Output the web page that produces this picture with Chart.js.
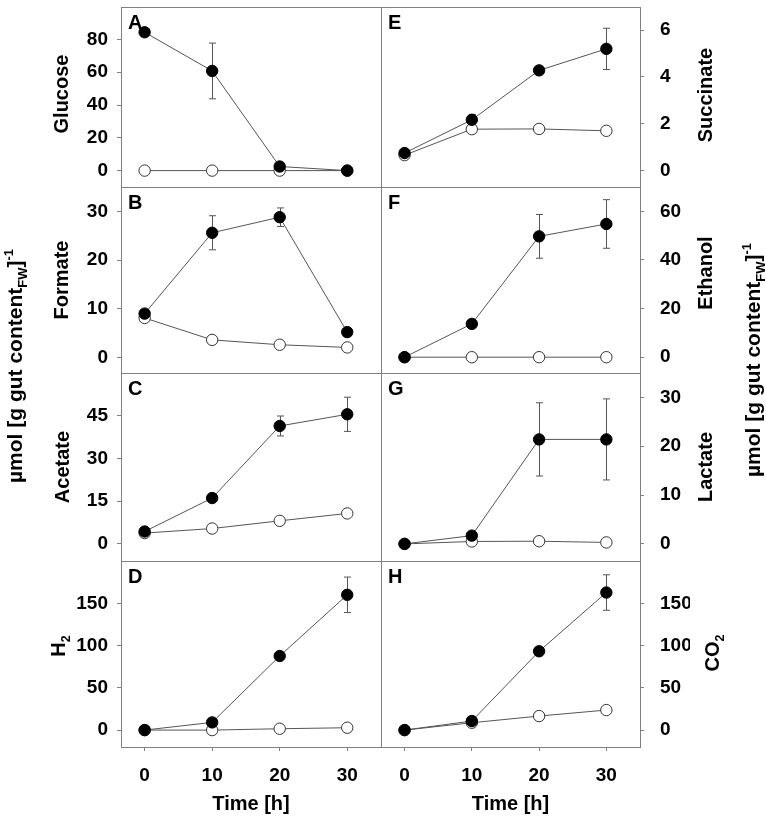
<!DOCTYPE html>
<html>
<head>
<meta charset="utf-8">
<script src="https://cdn.jsdelivr.net/npm/chart.js@4.4.0/dist/chart.umd.min.js"></script>
<style>
  html, body { margin: 0; padding: 0; background: #fff; }
  #wrap { position: relative; width: 766px; height: 816px; }
  #wrap canvas { position: absolute; left: 0; top: 0; }
</style>
</head>
<body>
<div id="wrap"></div>
<script>
// Valores (tempo em horas)
const times = [0, 10, 20, 30];
const xTicks = [0, 10, 20, 30];

// A - Glucose
const glucoseFilled = [84.4, 60.8, 2.5, 0];
const glucoseFilledErr = [0, 17, 0, 0];
const glucoseOpen = [0, 0, 0, 0];
const glucoseOpenErr = [0, 0, 0, 0];
const glucoseTicks = [0, 20, 40, 60, 80];

// B - Formate
const formateFilled = [9.0, 25.6, 28.8, 5.2];
const formateFilledErr = [0, 3.5, 1.9, 0];
const formateOpen = [8.1, 3.6, 2.6, 2.05];
const formateOpenErr = [0, 0, 0, 0];
const formateTicks = [0, 10, 20, 30];

// C - Acetate
const acetateFilled = [4.35, 16.1, 41.4, 45.5];
const acetateFilledErr = [0, 0, 3.5, 6];
const acetateOpen = [3.8, 5.4, 8.1, 10.7];
const acetateOpenErr = [0, 0, 0, 0];
const acetateTicks = [0, 15, 30, 45];

// D - H2
const h2Filled = [0, 9.1, 87.6, 160];
const h2FilledErr = [0, 0, 0, 21];
const h2Open = [0, 0, 1.6, 2.8];
const h2OpenErr = [0, 0, 0, 0];
const h2Ticks = [0, 50, 100, 150];

// E - Succinate
const succinateFilled = [0.75, 2.17, 4.28, 5.2];
const succinateFilledErr = [0, 0.23, 0, 0.88];
const succinateOpen = [0.66, 1.77, 1.78, 1.7];
const succinateOpenErr = [0, 0.05, 0, 0.1];
const succinateTicks = [0, 2, 4, 6];

// F - Ethanol
const ethanolFilled = [0, 13.7, 49.7, 54.8];
const ethanolFilledErr = [0, 0, 9, 10];
const ethanolOpen = [0, 0, 0, 0];
const ethanolOpenErr = [0, 0, 0, 0];
const ethanolTicks = [0, 20, 40, 60];

// G - Lactate
const lactateFilled = [0, 1.7, 21.4, 21.4];
const lactateFilledErr = [0, 0, 7.5, 8.3];
const lactateOpen = [0, 0.5, 0.55, 0.3];
const lactateOpenErr = [0, 0, 0, 0];
const lactateTicks = [0, 10, 20, 30];

// H - CO2
const co2Filled = [0, 10.7, 93.2, 162.7];
const co2FilledErr = [0, 0, 0, 21];
const co2Open = [0, 8.7, 16.6, 23.7];
const co2OpenErr = [0, 0, 0, 0];
const co2Ticks = [0, 50, 100, 150];

// Layout geral
const W = 766, H = 816;
const FONT = "'Liberation Sans', Arial, Helvetica, sans-serif";
const YW = 50;          // largura fixa do eixo y
const XH = 69;          // altura fixa do eixo x (linha de baixo)
const colX = [[121, 381], [381, 640]];
const rowY = [[1, 187], [187, 373], [373, 561], [561, 747]];
const frameColor = '#808080';
const lineColor = '#555555';

const panels = [
  { letter: 'A', col: 0, row: 0, min: -10, max: 100, ticks: glucoseTicks, filled: glucoseFilled, filledErr: glucoseFilledErr, open: glucoseOpen, openErr: glucoseOpenErr, title: [{ t: 'Glucose' }], titleY: 94, titleBase: 68 },
  { letter: 'B', col: 0, row: 1, min: -3.2, max: 35, ticks: formateTicks, filled: formateFilled, filledErr: formateFilledErr, open: formateOpen, openErr: formateOpenErr, title: [{ t: 'Formate' }], titleY: 280, titleBase: 68 },
  { letter: 'C', col: 0, row: 2, min: -6, max: 60, ticks: acetateTicks, filled: acetateFilled, filledErr: acetateFilledErr, open: acetateOpen, openErr: acetateOpenErr, title: [{ t: 'Acetate' }], titleY: 467, titleBase: 69 },
  { letter: 'D', col: 0, row: 3, min: -20, max: 200, ticks: h2Ticks, filled: h2Filled, filledErr: h2FilledErr, open: h2Open, openErr: h2OpenErr, title: [{ t: 'H' }, { t: '2', sub: true }], titleY: 646, titleBase: 65 },
  { letter: 'E', col: 1, row: 0, min: -0.7, max: 7, ticks: succinateTicks, filled: succinateFilled, filledErr: succinateFilledErr, open: succinateOpen, openErr: succinateOpenErr, title: [{ t: 'Succinate' }], titleY: 95, titleBase: 712 },
  { letter: 'F', col: 1, row: 1, min: -6.5, max: 70, ticks: ethanolTicks, filled: ethanolFilled, filledErr: ethanolFilledErr, open: ethanolOpen, openErr: ethanolOpenErr, title: [{ t: 'Ethanol' }], titleY: 273, titleBase: 712 },
  { letter: 'G', col: 1, row: 2, min: -3.5, max: 35, ticks: lactateTicks, filled: lactateFilled, filledErr: lactateFilledErr, open: lactateOpen, openErr: lactateOpenErr, title: [{ t: 'Lactate' }], titleY: 467, titleBase: 712 },
  { letter: 'H', col: 1, row: 3, min: -20, max: 200, ticks: co2Ticks, filled: co2Filled, filledErr: co2FilledErr, open: co2Open, openErr: co2OpenErr, title: [{ t: 'CO' }, { t: '2', sub: true }], titleY: 653, titleBase: 719 }
];

const unitLabel = [{ t: 'µmol [g gut content' }, { t: 'FW', sub: true }, { t: ']' }, { t: '-1', sup: true }];

// Desenha texto rotacionado (-90°) com sub/sobrescritos
function drawRich(ctx, parts, baseX, centerY, size) {
  ctx.save();
  ctx.translate(baseX, centerY);
  ctx.rotate(-Math.PI / 2);
  ctx.fillStyle = '#000';
  ctx.textBaseline = 'alphabetic';
  ctx.textAlign = 'left';
  let total = 0;
  parts.forEach(p => {
    p.size = (p.sub || p.sup) ? size * 0.62 : size;
    ctx.font = 'bold ' + p.size + 'px ' + FONT;
    p.w = ctx.measureText(p.t).width;
    total += p.w;
  });
  let x = -total / 2;
  parts.forEach(p => {
    ctx.font = 'bold ' + p.size + 'px ' + FONT;
    const dy = p.sub ? size * 0.24 : (p.sup ? -size * 0.45 : 0);
    ctx.fillText(p.t, x, dy);
    x += p.w;
  });
  ctx.restore();
}

function zeroPad(s) {
  s.paddingTop = 0; s.paddingBottom = 0; s.paddingLeft = 0; s.paddingRight = 0;
}

function makeChart(p, idx) {
  const cv = document.createElement('canvas');
  cv.width = W; cv.height = H;
  cv.style.width = W + 'px'; cv.style.height = H + 'px';
  document.getElementById('wrap').appendChild(cv);

  const isBottom = p.row === 3;
  const [x0, x1] = colX[p.col];
  const [y0, y1] = rowY[p.row];
  const padding = p.col === 0
    ? { left: x0 - YW, right: W - x1, top: y0, bottom: isBottom ? H - y1 - XH : H - y1 }
    : { left: x0, right: W - x1 - YW, top: y0, bottom: isBottom ? H - y1 - XH : H - y1 };

  const panelPlugin = {
    id: 'panel' + p.letter,
    beforeDatasetsDraw(chart) {
      // barras de erro
      const ctx = chart.ctx, xs = chart.scales.x, ys = chart.scales.y;
      ctx.save();
      ctx.strokeStyle = lineColor;
      ctx.lineWidth = 1;
      [[p.filled, p.filledErr], [p.open, p.openErr]].forEach(([vals, errs]) => {
        vals.forEach((v, i) => {
          const e = errs[i];
          if (!e) return;
          const px = Math.round(xs.getPixelForValue(times[i])) + 0.5;
          const pt = ys.getPixelForValue(v + e);
          const pb = ys.getPixelForValue(v - e);
          ctx.beginPath();
          ctx.moveTo(px, pt); ctx.lineTo(px, pb);
          ctx.moveTo(px - 3.5, pt); ctx.lineTo(px + 3.5, pt);
          ctx.moveTo(px - 3.5, pb); ctx.lineTo(px + 3.5, pb);
          ctx.stroke();
        });
      });
      ctx.restore();
    },
    afterDraw(chart) {
      const ctx = chart.ctx, a = chart.chartArea;
      ctx.save();
      ctx.strokeStyle = frameColor;
      ctx.lineWidth = 1;
      ctx.strokeRect(Math.round(a.left) + 0.5, Math.round(a.top) + 0.5,
        Math.round(a.right - a.left), Math.round(a.bottom - a.top));
      ctx.fillStyle = '#000';
      ctx.font = 'bold 20px ' + FONT;
      ctx.textAlign = 'left';
      ctx.textBaseline = 'alphabetic';
      ctx.fillText(p.letter, a.left + 7, a.top + 22);
      ctx.restore();
      drawRich(ctx, p.title, p.titleBase, p.titleY, 20);
      if (idx === 0) {
        drawRich(ctx, unitLabel, 22, 366, 21);
        drawRich(ctx, unitLabel, 760, 360, 21);
      }
    }
  };

  const tickFont = { family: FONT, size: 19, weight: 'bold' };

  return new Chart(cv, {
    type: 'line',
    data: {
      datasets: [
        {
          label: 'filled',
          data: times.map((t, i) => ({ x: t, y: p.filled[i] })),
          borderColor: lineColor,
          borderWidth: 1,
          pointRadius: 5.7,
          pointHoverRadius: 5.7,
          pointBackgroundColor: '#000',
          pointBorderColor: '#000',
          pointBorderWidth: 1,
          tension: 0
        },
        {
          label: 'open',
          data: times.map((t, i) => ({ x: t, y: p.open[i] })),
          borderColor: lineColor,
          borderWidth: 1,
          pointRadius: 5.7,
          pointHoverRadius: 5.7,
          pointBackgroundColor: '#fff',
          pointBorderColor: '#333',
          pointBorderWidth: 1,
          tension: 0
        }
      ]
    },
    options: {
      responsive: false,
      animation: false,
      events: [],
      devicePixelRatio: 1,
      layout: { padding },
      plugins: { legend: { display: false }, tooltip: { enabled: false } },
      scales: {
        x: {
          type: 'linear',
          min: -3.5,
          max: 35,
          display: isBottom,
          afterBuildTicks: s => { s.ticks = xTicks.map(v => ({ value: v })); },
          afterFit: s => { if (isBottom) s.height = XH; zeroPad(s); },
          grid: { drawOnChartArea: false, drawTicks: true, tickLength: 4, color: frameColor },
          border: { display: false },
          ticks: { font: tickFont, color: '#000', padding: 13, maxRotation: 0 },
          title: { display: true, text: 'Time [h]', color: '#000', font: { family: FONT, size: 20, weight: 'bold' }, padding: 0 }
        },
        y: {
          type: 'linear',
          position: p.col === 0 ? 'left' : 'right',
          min: p.min,
          max: p.max,
          afterBuildTicks: s => { s.ticks = p.ticks.map(v => ({ value: v })); },
          afterFit: s => { s.width = YW; zeroPad(s); },
          grid: { drawOnChartArea: false, drawTicks: true, tickLength: 4, color: frameColor },
          border: { display: false },
          ticks: { font: tickFont, color: '#000', padding: p.col === 0 ? 9 : 16 }
        }
      }
    },
    plugins: [panelPlugin]
  });
}

panels.forEach((p, i) => makeChart(p, i));
</script>
</body>
</html>
